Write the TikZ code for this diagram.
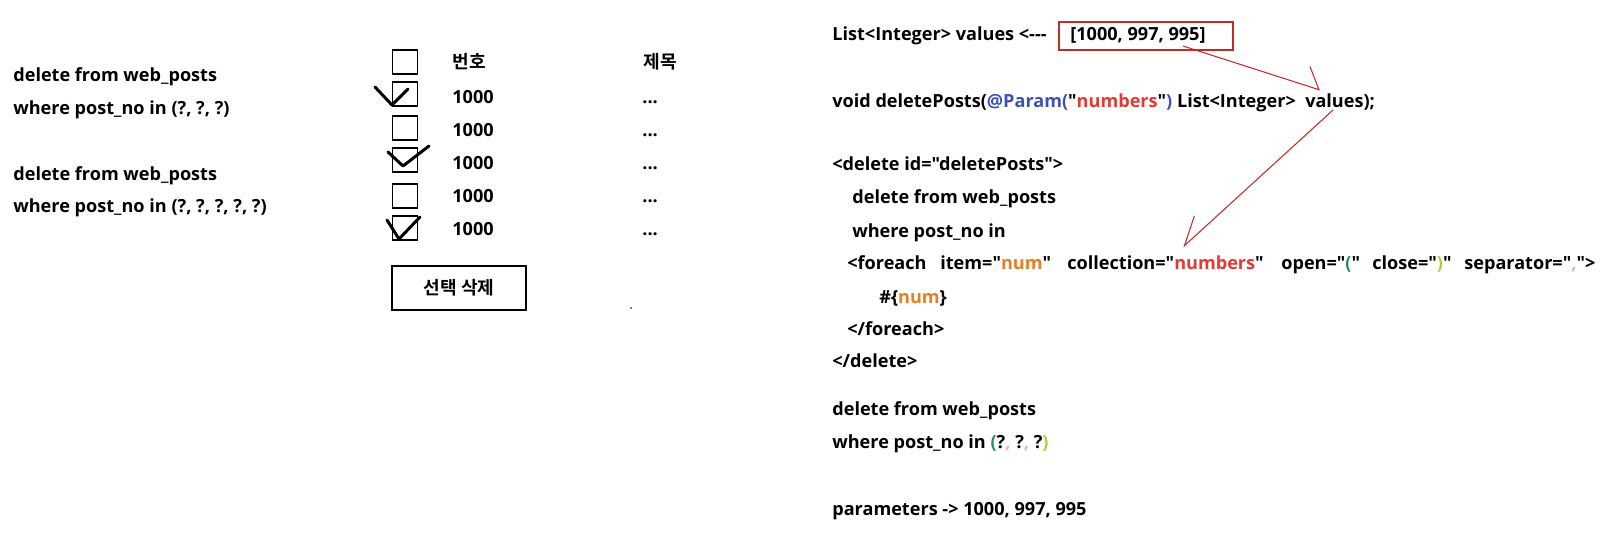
\documentclass[tikz,border=0pt]{standalone}
\usepackage{fontspec}
\setmainfont{Open Sans}[Ligatures=TeXOff]
\newfontfamily\krfont{Noto Sans CJK KR}[BoldFont={* Bold}]
\usepackage{xcolor}
\usetikzlibrary{positioning,arrows.meta}
\definecolor{penred}{RGB}{190,45,40}
\definecolor{parblue}{RGB}{63,81,181}
\definecolor{numred}{RGB}{229,57,53}
\definecolor{numorange}{RGB}{230,126,34}
\definecolor{opgreen}{RGB}{38,140,100}
\definecolor{clyellow}{RGB}{190,200,50}
\definecolor{seppink}{RGB}{244,170,170}
\newcommand{\hy}{\mbox{-}}

\begin{document}
\begin{tikzpicture}[x=0.02cm, y=-0.02cm]

\tikzstyle{txt}=[anchor=base west, inner sep=0pt, font=\bfseries\fontsize{10.3}{12}\selectfont]
\tikzstyle{krtxt}=[anchor=base west, inner sep=0pt, font=\krfont\bfseries\fontsize{10.3}{12}\selectfont]
\tikzstyle{chkbox}=[rectangle, draw, line width=0.6pt, minimum width=0.5cm, minimum height=0.48cm, inner sep=0pt]
\tikzstyle{btn}=[rectangle, draw, line width=0.6pt, minimum width=2.68cm, minimum height=0.88cm, font=\krfont\bfseries\fontsize{10.3}{12}\selectfont]
\tikzstyle{redbox}=[rectangle, draw=penred, line width=0.7pt, minimum width=3.48cm, minimum height=0.56cm, inner sep=0pt]
\tikzstyle{redline}=[draw=penred, line width=0.6pt]
\tikzstyle{tick}=[line width=1.7pt, line cap=round, line join=round]

\useasboundingbox (0,0) rectangle (1616,549);

% SQL for three and five rows
\node[txt] (q1) at (13,81) {delete from web\_posts};
\node[txt] (q2) at (13,114) {where post\_no in (?,\ ?,\ ?)};
\node[txt] (q3) at (13,180) {delete from web\_posts};
\node[txt] (q4) at (13,212) {where post\_no in (?,\ ?,\ ?,\ ?,\ ?)};

% Board list with check boxes
\foreach \y [count=\i] in {62,94,128,160,196,228}
  \node[chkbox] (cb\i) at (405,\y) {};
\node[krtxt] (hno) at (452,68) {번호};
\node[krtxt] (htitle) at (643,68) {제목};
\foreach \y [count=\i] in {103,136,169,202,235} {
  \node[txt] (no\i) at (452,\y) {1000};
  \node[txt] (dots\i) at (642,\y) {...};
}

% Hand drawn checks
\draw[tick] (375,87) -- (392,105) -- (408,89);
\draw[tick] (388,152) -- (403,166) -- (429,146);
\draw[tick] (387,220) -- (399,239) -- (420,217);

\node[btn] (delbtn) at (459,288) {선택 삭제};
\fill (631,308) circle (0.5pt);

% Mapper code
\node[txt] (l1) at (832,40) {List<Integer> values <\hy\hy\hy};
\node[txt] (vals) at (1070,40) {[1000, 997, 995]};
\node[redbox] (valbox) at (1146,36) {};
\node[txt] (l2) at (832,107) {void deletePosts(\textcolor{parblue}{@Param(}"\textcolor{numred}{numbers}"\textcolor{parblue}{)} List<Integer>\ \ values);};
\node[txt] (l3) at (832,170) {<delete id="deletePosts">};
\node[txt] (l4) at (852,203) {delete from web\_posts};
\node[txt] (l5) at (852,237) {where post\_no in};
\node[txt] (f1) at (847,269) {<foreach};
\node[txt] (f2) at (940,269) {item="\textcolor{numorange}{num}"};
\node[txt] (f3) at (1067,269) {collection="\textcolor{numred}{numbers}"};
\node[txt] (f4) at (1281,269) {open="\textcolor{opgreen}{(}"};
\node[txt] (f5) at (1372,269) {close="\textcolor{clyellow}{)}"};
\node[txt] (f6) at (1464,269) {separator="\textcolor{seppink}{,}">};
\node[txt] (l7) at (879,303) {\#\{\textcolor{numorange}{num}\}};
\node[txt] (l8) at (847,335) {</foreach>};
\node[txt] (l9) at (832,367) {</delete>};

% Resulting query
\node[txt] (r1) at (832,415) {delete from web\_posts};
\node[txt] (r2) at (832,448) {where post\_no in \textcolor{opgreen}{(}?\textcolor{seppink}{,} ?\textcolor{seppink}{,} ?\textcolor{clyellow}{)}};
\node[txt] (r3) at (832,515) {parameters -> 1000, 997, 995};

% Arrows
\coordinate (a1s) at (1183,46);
\coordinate (valtop) at (1320,90);
\coordinate (valbot) at (1333,110);
\coordinate (numtop) at (1183,247);
\draw[redline, -{Straight Barb[harpoon, length=8.9pt, width=22pt]}] (a1s) -- (valtop);
\draw[redline, -{Straight Barb[harpoon, swap, length=15.6pt, width=17.5pt]}] (valbot) -- (numtop);

\end{tikzpicture}
\end{document}
